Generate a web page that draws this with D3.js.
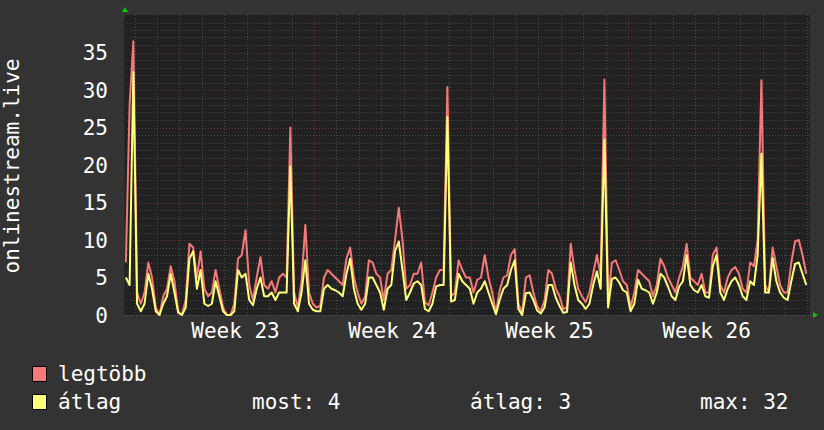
<!DOCTYPE html>
<html>
<head>
<meta charset="utf-8">
<script src="https://cdn.jsdelivr.net/npm/d3@7"></script>
<style>
  body { margin: 0; background: #333333; }
  text { font-family: "DejaVu Sans Mono", monospace; fill: #ffffff; }
</style>
</head>
<body>
<svg id="chart"></svg>
<script>
// 4-hour samples
const maxValues = [
  7, 28, 36.5, 3, 1.5, 3, 7, 5, 1, 0,
  2.5, 3.5, 6.5, 4.5, 0.5, 0, 2, 9.5, 9, 5,
  8.5, 3.5, 2.5, 3, 6, 3.5, 1, 0, 0, 1.5,
  7.5, 8, 11.3, 4, 2, 5, 7.7, 4, 3.5, 4.5,
  3, 5, 5.5, 5, 25, 3, 1, 4.5, 12, 3,
  1.5, 1, 1.2, 5, 6, 5.5, 5, 4.5, 4, 7.5,
  9, 5, 3, 1.5, 2.5, 7.3, 7, 5.5, 5, 2,
  5.5, 6, 10, 14.3, 10, 3.5, 4, 5.5, 5.5, 7,
  1.7, 1.3, 3, 5, 6, 6, 30.4, 2.5, 3, 7.3,
  6, 5, 5, 3, 4.7, 5, 8, 5, 3, 0.3,
  3.3, 5, 5.3, 8, 8.8, 1.5, 0.3, 5, 5.3, 3,
  1.2, 0.5, 2, 6, 5.5, 3.5, 2.5, 0.8, 1, 9.5,
  6, 3.5, 2.5, 1.7, 3, 5.5, 8, 5.3, 31.4, 2,
  7, 7.3, 6, 4.5, 4, 1, 3, 6, 5.5, 5,
  4.5, 2.5, 4, 7.5, 6.5, 5, 4, 3, 5, 6.5,
  9.5, 5, 4.5, 4, 5.5, 3, 3, 8, 9, 4,
  3, 5, 6, 6.4, 5.5, 3.5, 3, 7, 6.5, 10,
  31.3, 4, 3, 9, 6.5, 4, 3, 3, 7, 9.8,
  10, 8, 5.5
];
const avgValues = [
  5, 4, 32.4, 1.5, 0.5, 1.5, 5.5, 3.5, 0.5, 0,
  1.5, 2.5, 5.5, 3, 0.3, 0, 1, 7.5, 8.5, 3.5,
  6, 1.5, 1.2, 1.5, 4.5, 2.5, 0.5, 0, 0, 0.5,
  6, 5, 5.5, 2, 1.3, 3.5, 5, 2.5, 2.5, 3,
  2, 3, 3, 3, 19.8, 1.5, 0.5, 3, 7.3, 1.5,
  0.7, 0.5, 0.5, 3.5, 4, 3.5, 3.3, 3, 2.5, 5.5,
  7.5, 3.5, 1.5, 0.7, 1.5, 5, 5, 4, 3, 0.7,
  3.5, 4, 8.5, 9.8, 6, 2, 3, 4.2, 4.5, 4,
  0.8, 0.5, 1.5, 3.8, 4, 4, 26.4, 1.8, 2, 5.5,
  4.5, 4, 3.5, 1.5, 3, 3.5, 4.5, 3, 1.5, 0.1,
  2, 3.5, 4, 6, 7.3, 0.8, 0, 2.9, 3, 2,
  0.6, 0.2, 1, 4, 4, 2.3, 1.2, 0.3, 0.4, 7,
  4, 2, 1.5, 0.8, 1.5, 4, 5.8, 3.5, 23.4, 1,
  4.8, 5, 4.3, 3.3, 3, 0.5, 1.5, 4.7, 3.5, 3.3,
  3, 1.5, 3, 5.5, 5, 3.8, 2.5, 2, 3.8, 4.5,
  8, 4, 3.3, 3, 4, 2.5, 2.3, 6.5, 8, 3,
  2, 3.5, 4.5, 5, 4, 2.5, 2, 4.5, 4, 8,
  21.5, 3, 3, 7.6, 4.5, 3, 2.3, 2, 4.5, 6.8,
  7, 5.5, 4
];
const stepHours = 4;
const windowHours = 734;
const firstWeekHour = 35.3;
const weekLabels = ['Week 23', 'Week 24', 'Week 25', 'Week 26'];
const yTicks = [0, 5, 10, 15, 20, 25, 30, 35];
const yTitle = 'onlinestream.live';
const seriesNames = ['legtöbb', 'átlag'];
const seriesColors = ['#f77878', '#ffff78'];
const statLabels = ['most: 4', 'átlag: 3', 'max: 32'];

const width = 824, height = 430;
const plot = { left: 124, right: 810, top: 15, bottom: 315 };

const svg = d3.select('#chart')
  .attr('width', width)
  .attr('height', height);

svg.append('rect')
  .attr('width', width)
  .attr('height', height)
  .attr('fill', '#333333');

const x = d3.scaleLinear().domain([0, windowHours]).range([plot.left, plot.right]);
const y = d3.scaleLinear().domain([0, 40]).range([plot.bottom, plot.top]);

svg.append('rect')
  .attr('x', plot.left)
  .attr('y', plot.top)
  .attr('width', plot.right - plot.left)
  .attr('height', plot.bottom - plot.top)
  .attr('fill', '#212121');

// grid
const grid = svg.append('g').attr('shape-rendering', 'crispEdges');
const dayTicks = d3.range(firstWeekHour - 24, windowHours, 24);
const weekTicks = d3.range(firstWeekHour, windowHours, 168);

grid.selectAll('.hminor')
  .data(d3.range(1, 40).filter(v => v % 5 !== 0))
  .enter().append('line')
  .attr('x1', plot.left).attr('x2', plot.right)
  .attr('y1', d => Math.round(y(d)) + 0.5).attr('y2', d => Math.round(y(d)) + 0.5)
  .attr('stroke', '#4a4a4a').attr('stroke-dasharray', '1,2');

grid.selectAll('.vminor')
  .data(dayTicks.filter(h => !weekTicks.includes(h)))
  .enter().append('line')
  .attr('x1', d => Math.round(x(d)) + 0.5).attr('x2', d => Math.round(x(d)) + 0.5)
  .attr('y1', plot.top).attr('y2', plot.bottom)
  .attr('stroke', '#4a4a4a').attr('stroke-dasharray', '1,2');

grid.selectAll('.hmajor')
  .data(yTicks.filter(v => v > 0))
  .enter().append('line')
  .attr('x1', plot.left).attr('x2', plot.right)
  .attr('y1', d => Math.round(y(d)) + 0.5).attr('y2', d => Math.round(y(d)) + 0.5)
  .attr('stroke', '#6e3434').attr('stroke-dasharray', '1,2');

grid.selectAll('.vmajor')
  .data(weekTicks)
  .enter().append('line')
  .attr('x1', d => Math.round(x(d)) + 0.5).attr('x2', d => Math.round(x(d)) + 0.5)
  .attr('y1', plot.top).attr('y2', plot.bottom + 3)
  .attr('stroke', '#6e3434').attr('stroke-dasharray', '1,2');

// axis lines
grid.append('line')
  .attr('x1', plot.left).attr('x2', plot.right + 2)
  .attr('y1', plot.bottom + 0.5).attr('y2', plot.bottom + 0.5)
  .attr('stroke', '#555555').attr('stroke-dasharray', '1,2');
grid.append('line')
  .attr('x1', plot.left + 0.5).attr('x2', plot.left + 0.5)
  .attr('y1', plot.top - 2).attr('y2', plot.bottom)
  .attr('stroke', '#2a2a2a');

// series lines
function toPoints(values) {
  return values.map((v, i) => [i * stepHours + stepHours / 2, v]);
}

const line = d3.line()
  .x(d => x(d[0]))
  .y(d => y(d[1]));

[maxValues, avgValues].forEach((vals, i) => {
  svg.append('path')
    .datum(toPoints(vals))
    .attr('d', line)
    .attr('fill', 'none')
    .attr('stroke', seriesColors[i])
    .attr('stroke-width', 2)
    .attr('stroke-linejoin', 'round');
});

// arrows
svg.append('path')
  .attr('d', `M${plot.left - 2},${plot.top - 3} L${plot.left + 4},${plot.top - 3} L${plot.left + 1},${plot.top - 8} Z`)
  .attr('fill', '#00cc00');
svg.append('path')
  .attr('d', `M${plot.right + 3},${plot.bottom - 3} L${plot.right + 3},${plot.bottom + 3} L${plot.right + 8},${plot.bottom} Z`)
  .attr('fill', '#00cc00');

// y labels
svg.selectAll('.ylabel')
  .data(yTicks)
  .enter().append('text')
  .attr('x', 108)
  .attr('y', d => y(d) + 7.5)
  .attr('text-anchor', 'end')
  .style('font-size', '21px')
  .text(d => d);

// week labels
svg.selectAll('.xlabel')
  .data(weekLabels)
  .enter().append('text')
  .attr('x', (d, i) => x(weekTicks[i] + 84))
  .attr('y', 338)
  .attr('text-anchor', 'middle')
  .style('font-size', '21px')
  .text(d => d);

// y title
svg.append('text')
  .attr('transform', 'translate(19,166) rotate(-90)')
  .attr('text-anchor', 'middle')
  .style('font-size', '21px')
  .text(yTitle);

// legend
const legend = svg.append('g');
seriesNames.forEach((name, i) => {
  const ly = 366 + i * 28;
  legend.append('rect')
    .attr('x', 32.5).attr('y', ly + 0.5)
    .attr('width', 14).attr('height', 15)
    .attr('fill', seriesColors[i])
    .attr('stroke', '#000000');
  legend.append('text')
    .attr('x', 58).attr('y', ly + 15)
    .style('font-size', '21px')
    .text(name);
});

const statX = [252, 470, 700];
statLabels.forEach((s, i) => {
  legend.append('text')
    .attr('x', statX[i]).attr('y', 409)
    .style('font-size', '21px')
    .text(s);
});
</script>
</body>
</html>
